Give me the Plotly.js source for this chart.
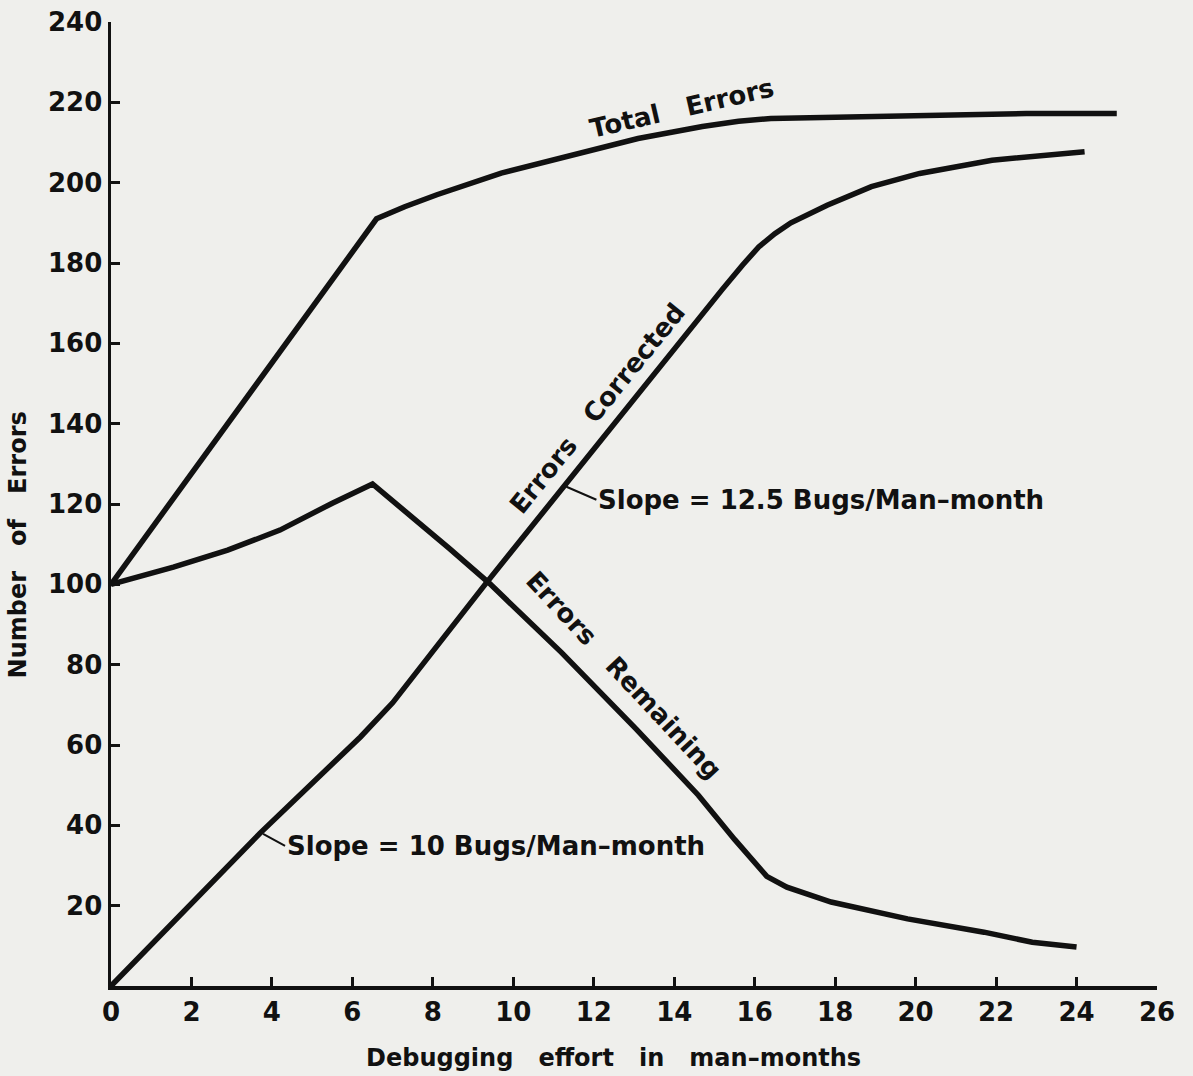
<!DOCTYPE html>
<html>
<head>
<meta charset="utf-8">
<script src="https://cdn.plot.ly/plotly-3.0.1.min.js"></script>
<style>
  html, body { margin: 0; padding: 0; background: #efefec; }
  #chart { width: 1193px; height: 1076px; }
</style>
</head>
<body>
<div id="chart"></div>
<script>
// Debugging effort (man-months) and error counts
const effortTotal = [0, 6.6, 7.3, 8.1, 9.7, 11.4, 13.1, 14.7, 15.6, 16.4, 17.8, 20.0, 22.75, 25.0];
const totalErrors = [100, 191, 194, 197, 202.4, 206.8, 211, 214, 215.3, 216, 216.3, 216.6, 217.2, 217.2];

const effortCorrected = [0, 3.7, 6.2, 7.0, 9.3, 11.35, 14.15, 15.2, 15.7, 16.1, 16.5, 16.9, 17.8, 18.9, 20.1, 21.9, 24.2];
const errorsCorrected = [0, 38, 62, 70.5, 100, 125.5, 160.8, 173.5, 179.5, 184, 187.3, 190, 194.4, 199, 202.3, 205.6, 207.7];

const effortRemaining = [0, 1.55, 2.9, 4.2, 5.5, 6.5, 8.4, 9.4, 11.2, 13.05, 14.6, 15.5, 16.3, 16.8, 17.9, 19.8, 21.7, 22.9, 24.0];
const errorsRemaining = [100, 104.3, 108.5, 113.5, 120.2, 125, 109, 100.3, 83, 64, 47.5, 36.5, 27.3, 24.6, 20.9, 16.7, 13.4, 10.9, 9.7];

const xTicks = [0, 2, 4, 6, 8, 10, 12, 14, 16, 18, 20, 22, 24, 26];
const xTickLabels = ['0', '2', '4', '6', '8', '10', '12', '14', '16', '18', '20', '22', '24', '26'];
const yTicks = [20, 40, 60, 80, 100, 120, 140, 160, 180, 200, 220, 240];
const yTickLabels = ['20', '40', '60', '80', '100', '120', '140', '160', '180', '200', '220', '240'];

const INK = '#111111';
const FONT = 'DejaVu Sans';
const sp = '\u00a0\u00a0\u00a0';

const lineStyle = { color: INK, width: 5.5, shape: 'linear' };

const traces = [
  { x: effortTotal, y: totalErrors, mode: 'lines', line: lineStyle, name: 'Total Errors', hoverinfo: 'skip' },
  { x: effortCorrected, y: errorsCorrected, mode: 'lines', line: lineStyle, name: 'Errors Corrected', hoverinfo: 'skip' },
  { x: effortRemaining, y: errorsRemaining, mode: 'lines', line: lineStyle, name: 'Errors Remaining', hoverinfo: 'skip' }
];

const labelFont = { family: FONT, size: 26, color: INK, weight: 'bold' };
const titleFont = { family: FONT, size: 24, color: INK, weight: 'bold' };

const layout = {
  width: 1193,
  height: 1076,
  paper_bgcolor: '#efefec',
  plot_bgcolor: '#efefec',
  showlegend: false,
  margin: { l: 111, r: 36, t: 22, b: 90, pad: 0 },
  xaxis: {
    range: [0, 26],
    tickmode: 'array',
    tickvals: xTicks,
    ticktext: xTickLabels,
    ticks: 'inside',
    ticklen: 9,
    tickwidth: 3,
    tickcolor: INK,
    showline: true,
    linecolor: INK,
    linewidth: 3.5,
    showgrid: false,
    zeroline: false,
    tickfont: { family: FONT, size: 26, color: INK, weight: 'bold' },
    fixedrange: true
  },
  yaxis: {
    range: [0, 240],
    tickmode: 'array',
    tickvals: yTicks,
    ticktext: yTickLabels,
    ticks: 'inside',
    ticklen: 9,
    tickwidth: 3,
    tickcolor: INK,
    showline: true,
    linecolor: INK,
    linewidth: 3.5,
    showgrid: false,
    zeroline: false,
    tickfont: { family: FONT, size: 26, color: INK, weight: 'bold' },
    fixedrange: true
  },
  annotations: [
    { xref: 'paper', yref: 'paper', x: 0.48, y: -0.075, yanchor: 'middle', showarrow: false,
      text: 'Debugging' + sp + 'effort' + sp + 'in' + sp + 'man–months', font: titleFont },
    { xref: 'paper', yref: 'paper', x: -0.088, y: 0.458, xanchor: 'center', yanchor: 'middle', textangle: -90, showarrow: false,
      text: 'Number' + sp + 'of' + sp + 'Errors', font: titleFont },
    { x: 14.2, y: 218.5, text: 'Total' + sp + 'Errors', textangle: -13, showarrow: false, font: labelFont },
    { x: 12.1, y: 143.8, text: 'Errors' + sp + 'Corrected', textangle: -51, showarrow: false, font: labelFont },
    { x: 12.75, y: 77.5, text: 'Errors' + sp + 'Remaining', textangle: 47, showarrow: false, font: labelFont },
    { x: 11.32, y: 124.3, ax: 30, ay: 13, xanchor: 'left', yanchor: 'middle', text: 'Slope = 12.5 Bugs/Man–month', showarrow: true, arrowhead: 0, arrowwidth: 2, arrowcolor: INK, standoff: 0, startstandoff: 0, font: labelFont },
    { x: 3.78, y: 37.9, ax: 22, ay: 12, xanchor: 'left', yanchor: 'middle', text: 'Slope = 10 Bugs/Man–month', showarrow: true, arrowhead: 0, arrowwidth: 2, arrowcolor: INK, standoff: 0, startstandoff: 0, font: labelFont }
  ]
};

Plotly.newPlot('chart', traces, layout, { displayModeBar: false, staticPlot: true });
</script>
</body>
</html>
